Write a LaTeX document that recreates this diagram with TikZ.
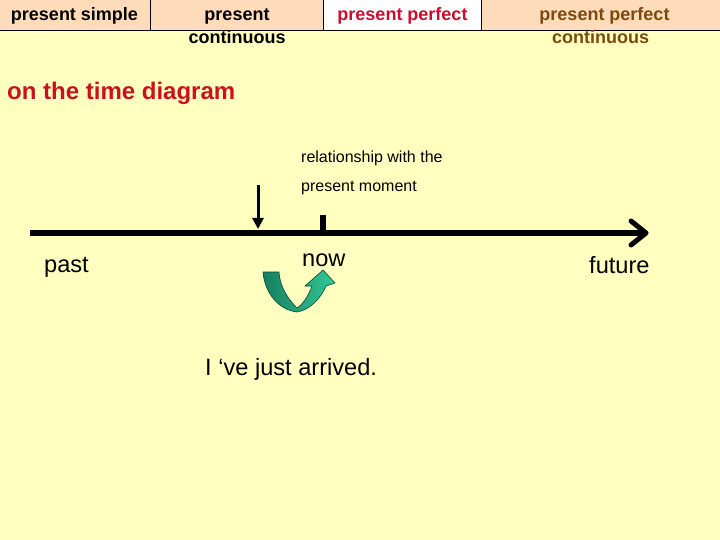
\documentclass[tikz,border=0pt]{standalone}
\usepackage{fontspec}
\setmainfont{Liberation Sans}
\usetikzlibrary{arrows.meta}
\definecolor{bgyellow}{RGB}{255,255,192}
\definecolor{tabpeach}{RGB}{255,220,185}
\definecolor{tabred}{RGB}{200,16,46}
\definecolor{headred}{RGB}{204,16,32}
\definecolor{tabbrown}{RGB}{122,74,16}
\definecolor{darkteal}{RGB}{22,128,98}
\definecolor{lightteal}{RGB}{50,200,150}
\definecolor{edgegreen}{RGB}{10,70,50}
\begin{document}
\begin{tikzpicture}[x=1pt,y=-1pt,
  txt/.style={inner sep=0pt,anchor=base},
  tabtxt/.style={txt,font=\fontsize{18}{22}\selectfont\bfseries},
  bigtxt/.style={txt,anchor=base west,font=\fontsize{23.6}{28}\selectfont},
  smalltxt/.style={txt,anchor=base west,font=\fontsize{16}{19}\selectfont},
  tabline/.style={black,line width=0.8pt}]
\useasboundingbox (0,0) rectangle (720,540);
\fill[bgyellow] (0,0) rectangle (720,540);
% tabs
\fill[tabpeach] (0,0) rectangle (323,30);
\fill[white] (323,0) rectangle (481,30);
\fill[tabpeach] (481,0) rectangle (720,30);
\draw[tabline] (0,30) -- (720,30);
\draw[tabline] (150,0) -- (150,30);
\draw[tabline] (323,0) -- (323,30);
\draw[tabline] (481,0) -- (481,30);
\node[tabtxt] (t1) at (74.5,20.5) {present simple};
\node[tabtxt] (t2a) at (237,20.5) {present};
\node[tabtxt] (t2b) at (237,43.5) {continuous};
\node[tabtxt,text=tabred] (t3) at (402.5,20.5) {present perfect};
\node[tabtxt,text=tabbrown] (t4a) at (604.5,20.5) {present perfect};
\node[tabtxt,text=tabbrown] (t4b) at (600.5,43.5) {continuous};
% heading
\node[txt,anchor=base west,text=headred,font=\fontsize{24}{28}\selectfont\bfseries] (head) at (7,100) {on the time diagram};
\node[smalltxt] (rel1) at (301,162.5) {relationship with the};
\node[smalltxt] (rel2) at (301,191.5) {present moment};
% timeline
\coordinate (tlstart) at (30,233);
\coordinate (tlend) at (645,233);
\draw[line width=5pt] (tlstart) -- (tlend);
\draw[line width=5pt,line cap=round,line join=round] (631,221) -- (646,233) -- (631,245);
\coordinate (ticktop) at (323,215);
\coordinate (tickbot) at (323,233);
\draw[line width=6pt] (ticktop) -- (tickbot);
\coordinate (dtop) at (258,185);
\coordinate (dbot) at (258,229);
\draw[line width=3pt,-{Triangle[length=11pt,width=11pt]}] (dtop) -- (dbot);
% labels
\node[bigtxt] (past) at (44,272.5) {past};
\node[bigtxt] (now) at (302,266.5) {now};
\node[bigtxt] (future) at (589,273.5) {future};
\node[bigtxt] (sent) at (205,375.5) {I ‘ve just arrived.};
% green U-turn arrow
\path[left color=darkteal,right color=lightteal,draw=edgegreen,line width=0.6pt]
  (263,272) .. controls (265,295) and (280,310) .. (297,312)
  .. controls (310,310) and (321,298) .. (326,286)
  -- (335,283) -- (323,270) -- (305,286) -- (312,286)
  .. controls (308,297) and (302,305) .. (297,308)
  .. controls (289,300) and (280,288) .. (279,272) -- cycle;
\end{tikzpicture}
\end{document}
